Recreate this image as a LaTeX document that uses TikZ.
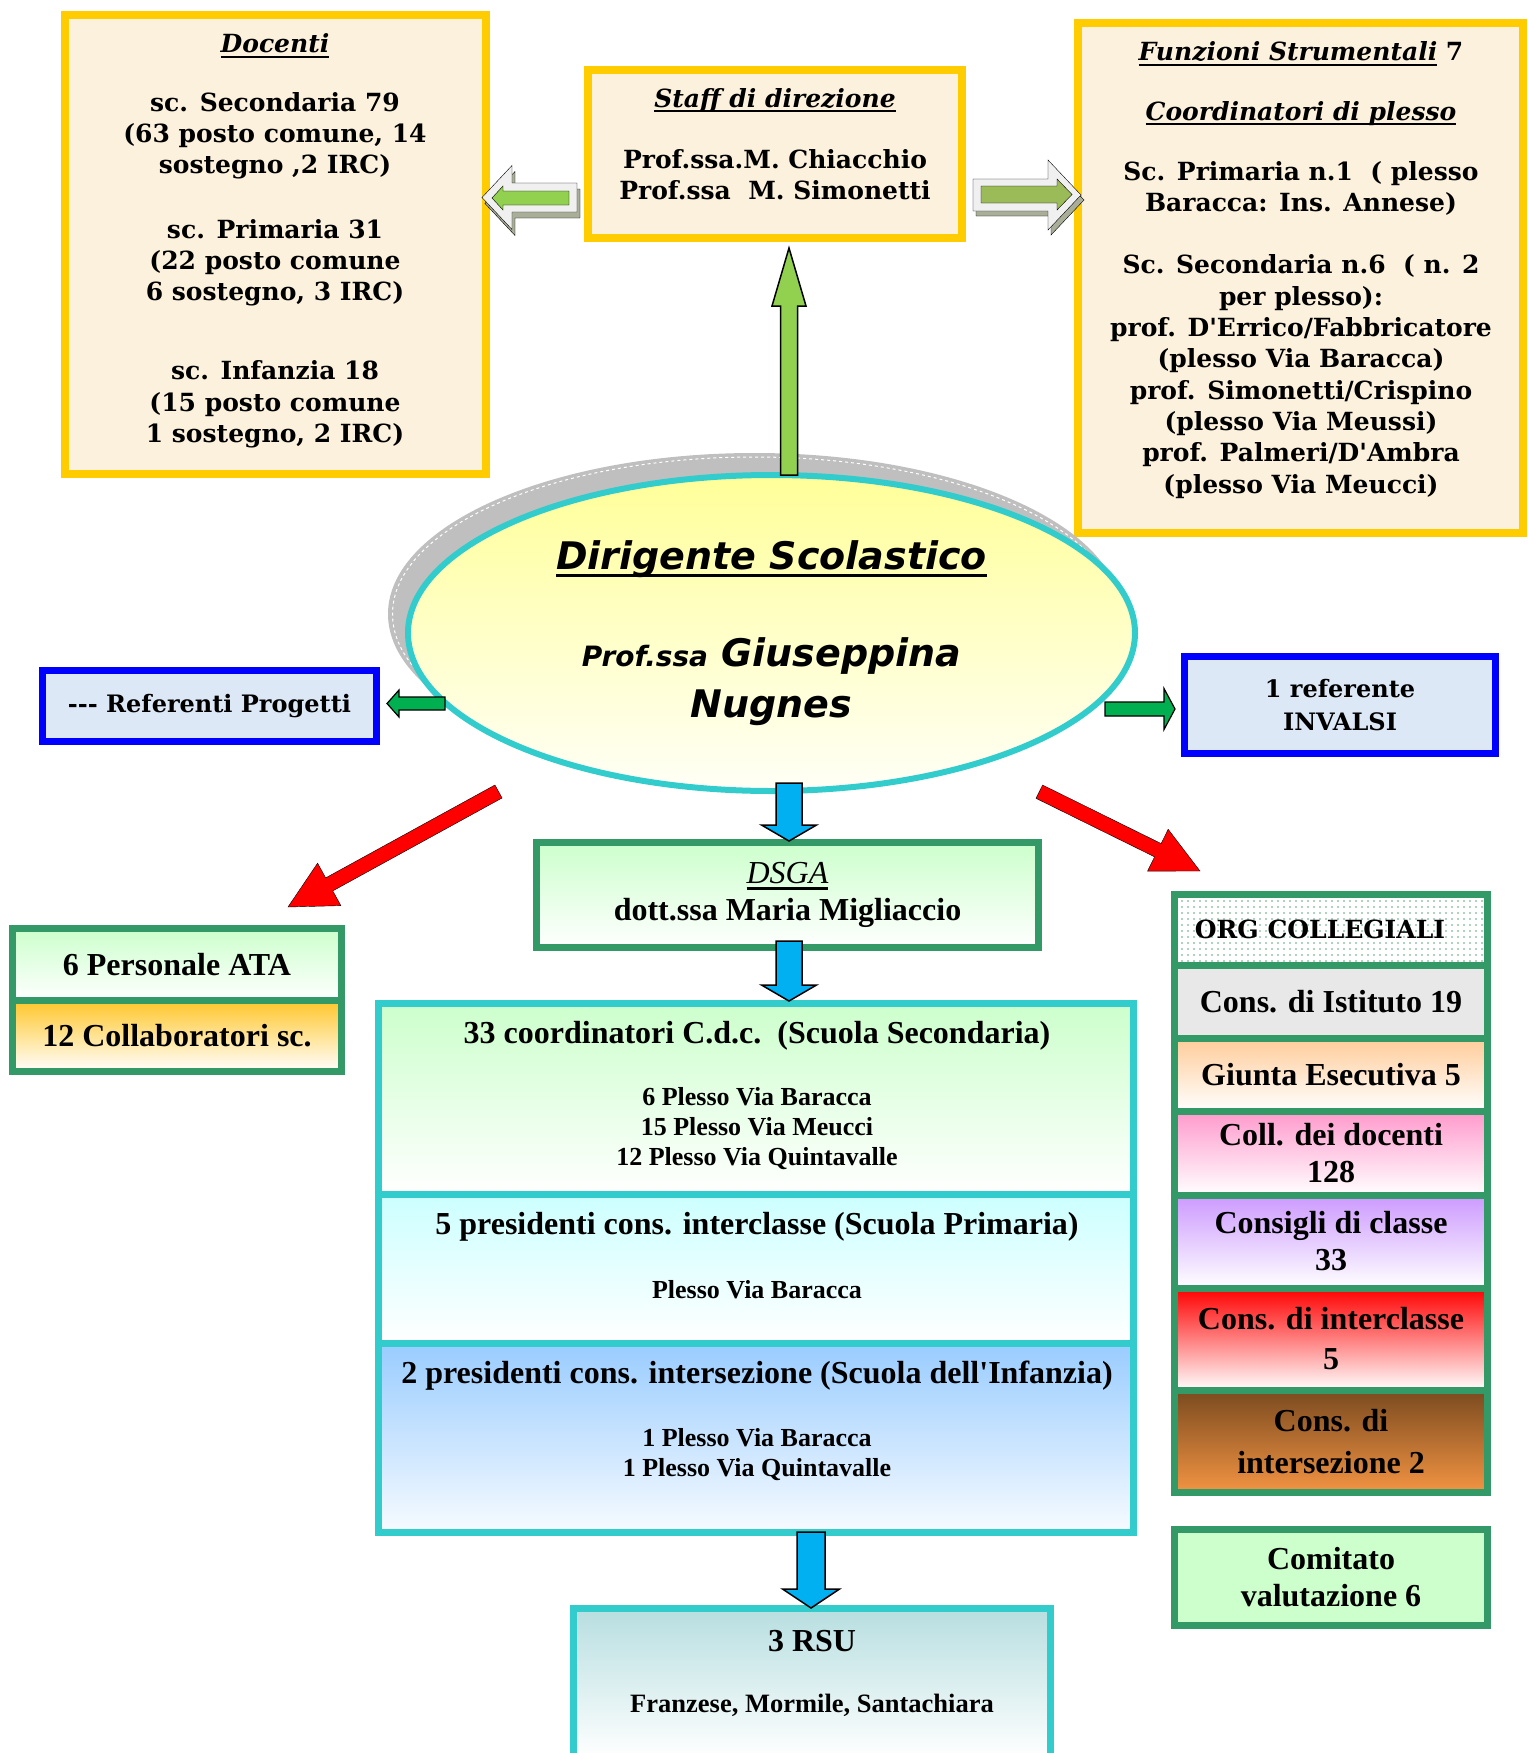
\documentclass[tikz,border=0pt]{standalone}
\usepackage{fontspec}
\setmainfont{Liberation Serif}
\newfontfamily\bkm{DejaVu Serif}
\newfontfamily\vrd{DejaVu Sans}
\usetikzlibrary{positioning,calc,shapes.geometric,patterns.meta}

\definecolor{yelb}{HTML}{FFCC00}
\definecolor{parch}{HTML}{FBF1DC}
\definecolor{grnb}{HTML}{339966}
\definecolor{cyb}{HTML}{33CCCC}
\definecolor{blub}{HTML}{0000FF}
\definecolor{pale}{HTML}{DCE8F6}
\definecolor{skyar}{HTML}{00B0F0}
\definecolor{limear}{HTML}{92D050}
\definecolor{olivear}{HTML}{9BBB59}
\definecolor{darkar}{HTML}{00B050}
\definecolor{shad}{HTML}{A8AE98}
\definecolor{lgrey}{HTML}{F0F0F0}
\definecolor{mint}{HTML}{CCFFCC}
\definecolor{aqua}{HTML}{CCFFFF}
\definecolor{azure}{HTML}{99CCFF}
\definecolor{goldf}{HTML}{FFC629}
\definecolor{peach}{HTML}{FFCC99}
\definecolor{pinkf}{HTML}{FF99CC}
\definecolor{lilac}{HTML}{CC99FF}
\definecolor{brownf}{HTML}{7A4A1F}
\definecolor{orangef}{HTML}{F39443}
\definecolor{rsuf}{HTML}{B7DEE0}
\definecolor{dotg}{HTML}{5FA67F}
\definecolor{ellg}{HTML}{BFBFBF}
\definecolor{elly}{HTML}{FFFF99}

\newcommand{\uln}[1]{\leavevmode\setbox0\hbox{#1}\rlap{\vrule width\wd0 height -0.12em depth 0.19em}\box0}

% block arrow from #2 to #3
\newcommand{\blk}[6]{%
  \path (#2) coordinate (ba) (#3) coordinate (bb);
  \pgfpointdiff{\pgfpointanchor{ba}{center}}{\pgfpointanchor{bb}{center}}%
  \pgfgetlastxy{\bdx}{\bdy}%
  \pgfmathsetmacro{\bang}{atan2(\bdy,\bdx)}%
  \pgfmathsetmacro{\blen}{veclen(\bdx,\bdy)}%
  \draw[#1, shift={(ba)}, rotate=\bang] (0,#4) -- ({\blen-#6},#4) -- ({\blen-#6},#5) -- (\blen,0)
    -- ({\blen-#6},-#5) -- ({\blen-#6},-#4) -- (0,-#4) -- cycle;}

\begin{document}
\begin{tikzpicture}[x=1pt, y=-1pt,
  yel/.style={draw=yelb, line width=8pt, fill=parch, inner sep=0pt, outer sep=0pt},
  blu/.style={draw=blub, line width=7pt, fill=pale, inner sep=0pt, outer sep=0pt, align=center, font=\bkm\bfseries\fontsize{24}{33}\selectfont},
  grn/.style={draw=grnb, line width=7pt, inner sep=0pt, outer sep=0pt, align=center, font=\bfseries\fontsize{32}{37}\selectfont},
  row/.style={grn, minimum width=313pt},
  sec/.style={draw=cyb, line width=7pt, inner sep=0pt, outer sep=0pt, minimum width=755pt},
  bk/.style={align=center, font=\bkm\bfseries\fontsize{25}{31.3}\selectfont},
  tm/.style={align=center, font=\bfseries\fontsize{32}{37}\selectfont},
  sm/.style={align=center, font=\bfseries\fontsize{26}{30}\selectfont},
  sky/.style={fill=skyar, draw=black, line width=1.5pt},
  dark/.style={fill=darkar, draw=black, line width=1.2pt}]
  \path[use as bounding box, clip] (0,0) rectangle (1527,1753);

  \node[yel, minimum width=421pt, minimum height=459pt] (doc) at (275,244.5) {};
  \node[yel, minimum width=374pt, minimum height=168pt] (staff) at (775,154) {};
  \node[yel, minimum width=445pt, minimum height=509pt] (fs) at (1300.5,278) {};
  \node[bk] (doct) at (275,241) {{\itshape\uln{Docenti}}\\[27pt]
    sc. Secondaria 79\\(63 posto comune, 14\\sostegno ,2 IRC)\\[33pt]
    sc. Primaria 31\\(22 posto comune\\6 sostegno, 3 IRC)\\[48pt]
    sc. Infanzia 18\\(15 posto comune\\1 sostegno, 2 IRC)};
  \node[bk] (stafft) at (775,144) {{\itshape\uln{Staff di direzione}}\\[30pt]
    Prof.ssa.M. Chiacchio\\Prof.ssa~~M. Simonetti};
  \node[bk] (fst) at (1301,270) {{\itshape\uln{Funzioni Strumentali}} 7\\[28pt]
    {\itshape\uln{Coordinatori di plesso}}\\[29pt]
    Sc. Primaria n.1~~( plesso\\Baracca: Ins. Annese)\\[31pt]
    Sc. Secondaria n.6~~( n. 2\\per plesso):\\prof. D\textquotesingle Errico/Fabbricatore\\(plesso Via Baracca)\\
    prof. Simonetti/Crispino\\(plesso Via Meussi)\\prof. Palmeri/D\textquotesingle Ambra\\(plesso Via Meucci)};

  \fill[ellg] (754.5,614) ellipse [x radius=366.5pt, y radius=161pt];
  \draw[white, line width=1pt, dashed] (754.5,614) ellipse [x radius=362pt, y radius=157pt];
  \node[ellipse, draw=cyb, line width=6pt, top color=elly, bottom color=elly!8, minimum width=727pt, minimum height=316pt,
    inner sep=0pt, outer sep=0pt, align=center, font=\vrd\bfseries\itshape\fontsize{38}{51}\selectfont] (dir) at (771.5,633)
    {\uln{Dirigente Scolastico}\\[46pt]{\fontsize{28}{51}\selectfont Prof.ssa} Giuseppina\\Nugnes};

  \node[blu, minimum width=334pt, minimum height=71pt] (ref) at (209.5,706) {-{}-{}- Referenti Progetti};
  \node[blu, minimum width=311.5pt, minimum height=97pt] (inv) at (1340,705) {1 referente\\INVALSI};

  \node[grn, top color=mint, bottom color=white, minimum width=502pt, minimum height=105pt] (dsga) at (787.5,895)
    {\uln{\mdseries\itshape DSGA}\\dott.ssa Maria Migliaccio};

  \node[sec, top color=mint, bottom color=white, minimum height=190.5pt] (s1) at (756,1098.75) {};
  \node[sec, top color=aqua, bottom color=white, minimum height=149pt] (s2) [below=0pt of s1] {};
  \node[sec, top color=azure, bottom color=azure!8, minimum height=189.5pt] (s3) [below=0pt of s2] {};
  \node[tm] (s1t) at (757,1036) {33 coordinatori C.d.c.~~(Scuola Secondaria)};
  \node[sm] (s1l) at (757,1129) {6 Plesso Via Baracca\\15 Plesso Via Meucci\\12 Plesso Via Quintavalle};
  \node[tm] (s2t) at (757,1227) {5 presidenti cons. interclasse (Scuola Primaria)};
  \node[sm] (s2l) at (757,1290) {Plesso Via Baracca};
  \node[tm] (s3t) at (757,1376) {2 presidenti cons. intersezione (Scuola dell\textquotesingle Infanzia)};
  \node[sm] (s3l) at (757,1455) {1 Plesso Via Baracca\\1 Plesso Via Quintavalle};

  \node[draw=cyb, line width=7pt, top color=rsuf, bottom color=white, minimum width=477pt, minimum height=149.5pt,
    inner sep=0pt, outer sep=0pt] (rsu) at (812,1683.25) {};
  \node[tm] (rsut) at (812,1641) {3 RSU};
  \node[sm, font=\bfseries\fontsize{26.5}{30}\selectfont] (rsun) at (812,1705) {Franzese, Mormile, Santachiara};

  \node[grn, top color=mint, bottom color=white, minimum width=329pt, minimum height=71.5pt] (ata) at (177,964.25) {6 Personale ATA};
  \node[grn, top color=goldf, bottom color=white, minimum width=329pt, minimum height=71.5pt] (coll) [below=0pt of ata] {12 Collaboratori sc.};

  \node[row, pattern={Dots[radius=0.9pt, distance=6pt]}, pattern color=dotg, minimum height=70.5pt,
    font=\bkm\bfseries\fontsize{25}{30}\selectfont] (org) at (1331,929.75) {ORG COLLEGIALI\hspace{22pt}};
  \node[row, fill=gray!18, minimum height=73pt] (cdi) [below=0pt of org] {Cons. di Istituto 19};
  \node[row, top color=peach, bottom color=white, minimum height=73pt] (giu) [below=0pt of cdi] {Giunta Esecutiva 5};
  \node[row, top color=pinkf, bottom color=white, minimum height=84pt] (cdoc) [below=0pt of giu] {Coll. dei docenti\\128};
  \node[row, top color=lilac, bottom color=white, minimum height=93pt] (ccl) [below=0pt of cdoc] {Consigli di classe\\33};
  \node[row, top color=red, bottom color=white, minimum height=102pt, font=\bfseries\fontsize{32}{40}\selectfont] (cint)
    [below=0pt of ccl] {Cons. di interclasse\\5};
  \node[row, top color=brownf, bottom color=orangef, minimum height=102.5pt, font=\bfseries\fontsize{32}{42}\selectfont] (cis)
    [below=0pt of cint] {Cons. di\\intersezione 2};
  \node[row, fill=mint, minimum height=96pt] (cval) at (1331,1577.5) {Comitato\\valutazione 6};

  \blk{fill=limear, draw=black, line width=1.5pt}{$(dir.north)+(17.5,0)$}{$(staff.south)+(14,10)$}{8.5}{17}{58}

  \blk{fill=shad}{$(staff.west)+(-8,49.5)$}{$(doc.east)+(-0.5,-41)$}{14.5}{32}{30}
  \blk{fill=lgrey}{$(staff.west)+(-11,43.5)$}{$(doc.east)+(-3.5,-47)$}{14.5}{32}{30}
  \blk{fill=limear}{$(staff.west)+(-19,44)$}{$(doc.east)+(6.5,-46.5)$}{7}{12}{11}

  \blk{fill=shad}{$(staff.east)+(14,46)$}{$(fs.west)+(6,-78)$}{16}{35}{33}
  \blk{fill=lgrey}{$(staff.east)+(11,41)$}{$(fs.west)+(3,-83)$}{16}{35}{33}
  \blk{fill=olivear}{$(staff.east)+(19,40.5)$}{$(fs.west)+(-6,-83.5)$}{8.5}{15.5}{15}

  \blk{dark}{$(dir.west)+(37,70.5)$}{$(ref.east)+(10.5,-2.5)$}{6.5}{13.5}{12}
  \blk{dark}{$(dir.east)+(-30,76)$}{$(inv.west)+(-9.25,4)$}{7}{20.5}{11}

  \blk{sky}{$(dir.south)+(17.5,-8)$}{$(dsga.north)+(1.5,-1.5)$}{13}{27.5}{16}
  \blk{sky}{$(dsga.south)+(1.5,-6.5)$}{$(s1.north)+(33,-2.5)$}{13}{27.5}{16}
  \blk{sky}{$(s3.south)+(55,-0.5)$}{$(rsu.north)+(-1,-0.5)$}{14}{28.5}{19}

  \blk{fill=red}{$(dir.center)+(-273,158.5)$}{$(ata.north)+(111,-21.5)$}{7.4}{24.2}{47}
  \blk{fill=red}{$(dir.center)+(267.8,158.7)$}{$(org.north)+(-131,-23.5)$}{7.4}{23.3}{47}
\end{tikzpicture}
\end{document}
